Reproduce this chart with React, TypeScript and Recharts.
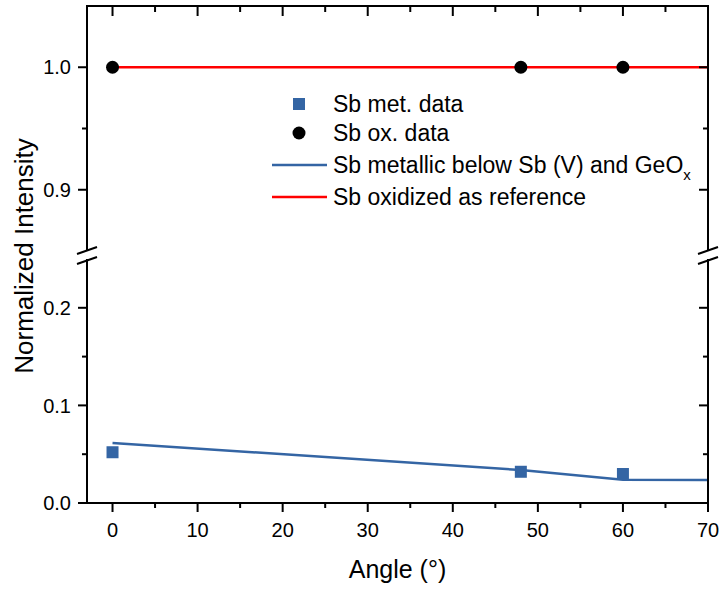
import React from 'react';
import { ComposedChart, Line, Scatter, XAxis, YAxis, Legend } from 'recharts';

// measured points (angle in degrees)
const dataAngles = [0, 48, 60];
const metData = [0.052, 0.032, 0.0297];
const oxData = [1.0, 1.0, 1.0];

// model curves
const metModelAngles = [0, 48, 60, 70];
const metModel = [0.0615, 0.0338, 0.0237, 0.0235];
const oxModelAngles = [0, 70];
const oxModel = [1.0, 1.0];

// axes
const xDomain = [-3, 70];
const xTicks = [0, 5, 10, 15, 20, 25, 30, 35, 40, 45, 50, 55, 60, 65, 70];
const xLabels = [0, 10, 20, 30, 40, 50, 60, 70];
const upperDomain = [0.85, 1.05];
const upperTicks = [0.9, 0.95, 1.0];
const upperLabels = [0.9, 1.0];
const lowerDomain = [0, 0.25];
const lowerTicks = [0, 0.05, 0.1, 0.15, 0.2];
const lowerLabels = [0, 0.1, 0.2];

const FONT = 'Arial, "Liberation Sans", Helvetica, sans-serif';
const BLUE = '#3465a4';
const RED = '#ff0000';
const BLACK = '#000000';

// plot boxes (pixels), shared by both panels
const PLOT_L = 87;
const PLOT_R = 708;
const UP_T = 6;
const UP_B = 251;
const LO_T = 259;
const LO_B = 503;

const toPoints = (xs: number[], ys: number[]) => xs.map((x, i) => ({ x, y: ys[i] }));

const metPoints = toPoints(dataAngles, metData);
const oxPoints = toPoints(dataAngles, oxData);
const metLine = toPoints(metModelAngles, metModel);
const oxLine = toPoints(oxModelAngles, oxModel);

const isMajor = (v: number, majors: number[]) => majors.some((m) => Math.abs(m - v) < 1e-9);
const tickLen = (v: number, majors: number[]) => (isMajor(v, majors) ? 9 : 5);

const stroke2 = { stroke: BLACK, strokeWidth: 2 };
const tickText = { fontSize: 20, fontFamily: FONT, fill: BLACK };

// left axis: outward ticks + labels
const makeLeftTick = (majors: number[]) => (props: any) => {
  const { x, y, payload } = props;
  const v = Number(payload.value);
  const major = isMajor(v, majors);
  return (
    <g>
      <line x1={x} y1={y} x2={x - tickLen(v, majors)} y2={y} {...stroke2} />
      {major && (
        <text x={x - 16} y={y} dy="0.36em" textAnchor="end" {...tickText}>
          {v.toFixed(1)}
        </text>
      )}
    </g>
  );
};

// bottom axis: outward ticks + labels
const BottomTick = (props: any) => {
  const { x, y, payload } = props;
  const v = Number(payload.value);
  const major = isMajor(v, xLabels);
  return (
    <g>
      <line x1={x} y1={y} x2={x} y2={y + tickLen(v, xLabels)} {...stroke2} />
      {major && (
        <text x={x} y={y + 34} textAnchor="middle" {...tickText}>
          {v.toFixed(0)}
        </text>
      )}
    </g>
  );
};

const SquareDot = (props: any) => (
  <rect x={props.cx - 6} y={props.cy - 6} width={12} height={12} fill={BLUE} />
);
const CircleDot = (props: any) => <circle cx={props.cx} cy={props.cy} r={6.5} fill={BLACK} />;

const LegendBox = () => {
  const row = (center: number, marker: React.ReactNode, text: React.ReactNode) => (
    <div style={{ position: 'absolute', left: 0, top: center - 15, height: 30, width: 460 }}>
      <svg width={60} height={30} style={{ position: 'absolute', left: 0, top: 0 }}>
        {marker}
      </svg>
      <div
        style={{
          position: 'absolute',
          left: 65,
          top: 0,
          lineHeight: '30px',
          fontSize: 23,
          fontFamily: FONT,
          color: BLACK,
          whiteSpace: 'nowrap',
        }}
      >
        {text}
      </div>
    </div>
  );
  return (
    <div style={{ position: 'relative', width: 460, height: 130 }}>
      {row(18, <rect x={25} y={9} width={12} height={12} fill={BLUE} />, 'Sb met. data')}
      {row(47, <circle cx={31} cy={15} r={6.5} fill={BLACK} />, 'Sb ox. data')}
      {row(
        79,
        <line x1={4} y1={15} x2={59} y2={15} stroke={BLUE} strokeWidth={2.5} />,
        <span>
          Sb metallic below Sb (V) and GeO
          <span style={{ fontSize: 15, position: 'relative', top: 7 }}>x</span>
        </span>
      )}
      {row(
        111,
        <line x1={4} y1={15} x2={59} y2={15} stroke={RED} strokeWidth={2.5} />,
        'Sb oxidized as reference'
      )}
    </div>
  );
};

const XTitle = (props: any) => {
  const vb = props.viewBox || { x: PLOT_L, y: LO_B, width: PLOT_R - PLOT_L };
  return (
    <text
      x={vb.x + vb.width / 2}
      y={vb.y + 66}
      textAnchor="middle"
      dominantBaseline="central"
      fontSize={25}
      fontFamily={FONT}
      fill={BLACK}
    >
      Angle (°)
    </text>
  );
};

// mirrored frame (top and right edges, inward ticks) drawn in the overlay
const sx = (v: number) => PLOT_L + ((v - xDomain[0]) / (xDomain[1] - xDomain[0])) * (PLOT_R - PLOT_L);
const syUp = (v: number) =>
  UP_B - ((v - upperDomain[0]) / (upperDomain[1] - upperDomain[0])) * (UP_B - UP_T);
const syLo = (v: number) =>
  LO_B - ((v - lowerDomain[0]) / (lowerDomain[1] - lowerDomain[0])) * (LO_B - LO_T);

const axisLine = { stroke: BLACK, strokeWidth: 2 };

const W = 723;
const H = 591;

export default function App() {
  return (
    <div style={{ position: 'absolute', left: 0, top: 0, width: W, height: H, overflow: 'hidden', background: '#fff' }}>
      {/* upper panel: 0.85 - 1.05 */}
      <div style={{ position: 'absolute', left: 0, top: 0 }}>
        <ComposedChart width={W} height={H} margin={{ top: UP_T, right: W - PLOT_R, bottom: H - UP_B, left: 0 }}>
          <XAxis type="number" dataKey="x" domain={xDomain} allowDataOverflow hide />
          <YAxis
            type="number"
            dataKey="y"
            width={PLOT_L}
            domain={upperDomain}
            ticks={upperTicks}
            interval={0}
            allowDataOverflow
            axisLine={axisLine}
            tickLine={false}
            tickSize={0}
            tickMargin={0}
            tick={makeLeftTick(upperLabels)}
          />
          <Scatter data={oxPoints} dataKey="y" shape={CircleDot} isAnimationActive={false} />
          <Line
            data={oxLine}
            dataKey="y"
            type="linear"
            stroke={RED}
            strokeWidth={2.5}
            dot={false}
            activeDot={false}
            isAnimationActive={false}
          />
          <Legend
            layout="vertical"
            align="center"
            verticalAlign="middle"
            content={() => <LegendBox />}
            wrapperStyle={{ left: 268, top: 86, width: 460, height: 130 }}
          />
        </ComposedChart>
      </div>

      {/* lower panel: 0 - 0.25 */}
      <div style={{ position: 'absolute', left: 0, top: 0 }}>
        <ComposedChart width={W} height={H} margin={{ top: LO_T, right: W - PLOT_R, bottom: 0, left: 0 }}>
          <XAxis
            type="number"
            dataKey="x"
            height={H - LO_B}
            domain={xDomain}
            ticks={xTicks}
            interval={0}
            allowDataOverflow
            axisLine={axisLine}
            tickLine={false}
            tickSize={0}
            tickMargin={0}
            tick={BottomTick}
            label={{ content: (p: any) => <XTitle {...p} /> }}
          />
          <YAxis
            type="number"
            dataKey="y"
            width={PLOT_L}
            domain={lowerDomain}
            ticks={lowerTicks}
            interval={0}
            allowDataOverflow
            axisLine={axisLine}
            tickLine={false}
            tickSize={0}
            tickMargin={0}
            tick={makeLeftTick(lowerLabels)}
          />
          <Line
            data={metLine}
            dataKey="y"
            type="linear"
            stroke={BLUE}
            strokeWidth={2.5}
            dot={false}
            activeDot={false}
            isAnimationActive={false}
          />
          <Scatter data={metPoints} dataKey="y" shape={SquareDot} isAnimationActive={false} />
        </ComposedChart>
      </div>

      {/* shared y title, top/right frame and axis break marks */}
      <svg width={W} height={H} style={{ position: 'absolute', left: 0, top: 0, pointerEvents: 'none' }}>
        <text
          x={24}
          y={256}
          transform="rotate(-90 24 256)"
          textAnchor="middle"
          dominantBaseline="central"
          fontSize={26}
          fontFamily={FONT}
          fill={BLACK}
        >
          Normalized Intensity
        </text>
        <g {...stroke2}>
          <line x1={PLOT_L - 1} y1={UP_T} x2={PLOT_R + 1} y2={UP_T} />
          <line x1={PLOT_R} y1={UP_T} x2={PLOT_R} y2={UP_B} />
          <line x1={PLOT_R} y1={LO_T} x2={PLOT_R} y2={LO_B + 1} />
          {xTicks.map((t) => (
            <line key={`t${t}`} x1={sx(t)} y1={UP_T} x2={sx(t)} y2={UP_T + tickLen(t, xLabels) + 1} />
          ))}
          {upperTicks.map((t) => (
            <line key={`ru${t}`} x1={PLOT_R} y1={syUp(t)} x2={PLOT_R - tickLen(t, upperLabels)} y2={syUp(t)} />
          ))}
          {lowerTicks.map((t) => (
            <line key={`rl${t}`} x1={PLOT_R} y1={syLo(t)} x2={PLOT_R - tickLen(t, lowerLabels)} y2={syLo(t)} />
          ))}
          <line x1={77} y1={254} x2={97} y2={247} />
          <line x1={77} y1={264} x2={97} y2={257} />
          <line x1={698} y1={254} x2={718} y2={247} />
          <line x1={698} y1={264} x2={718} y2={257} />
        </g>
      </svg>
    </div>
  );
}
